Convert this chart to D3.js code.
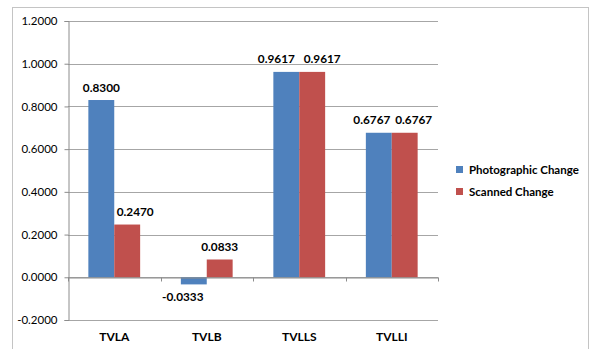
<!DOCTYPE html>
<html>
<head>
<meta charset="utf-8">
<script src="https://cdn.jsdelivr.net/npm/d3@7/dist/d3.min.js"></script>
<style>
  html, body { margin: 0; padding: 0; background: #fff; }
  svg text { font-family: Lato, "Open Sans", sans-serif; fill: #000; }
</style>
</head>
<body>
<svg id="chart" width="591" height="349"></svg>
<script>
// Chart data
const categories = ["TVLA", "TVLB", "TVLLS", "TVLLI"];
const seriesNames = ["Photographic Change", "Scanned Change"];
const photographic = [0.8300, -0.0333, 0.9617, 0.6767];
const scanned = [0.2470, 0.0833, 0.9617, 0.6767];
const yTicks = [-0.2, 0, 0.2, 0.4, 0.6, 0.8, 1.0, 1.2];
const colors = ["#4F81BD", "#C0504D"];

// Horizontal nudges for value labels so neighbouring labels do not collide
const labelShift = [[0, 8], [-11, 0], [-10, 10], [-7, 9]];

// Four-decimal format with a plain hyphen for negatives
const fmt = v => (v < 0 ? "-" : "") + Math.abs(v).toFixed(4);

const svg = d3.select("#chart");

// Outer frame
svg.append("rect")
  .attr("x", 12.5).attr("y", 7.5)
  .attr("width", 576).attr("height", 345)
  .attr("fill", "#fff").attr("stroke", "#c4c4c4").attr("stroke-width", 1);

const plot = { left: 68, right: 438, top: 21, bottom: 320 };

const y = d3.scaleLinear().domain([-0.2, 1.2]).range([plot.bottom, plot.top]);
const x0 = d3.scaleBand().domain(categories).range([plot.left, plot.right]).paddingInner(0.44).paddingOuter(0.22);
const x1 = d3.scaleBand().domain(seriesNames).range([0, x0.bandwidth()]);

// Horizontal gridlines
svg.append("g").selectAll("line").data(yTicks).join("line")
  .attr("x1", plot.left).attr("x2", plot.right)
  .attr("y1", d => Math.round(y(d)) + 0.5).attr("y2", d => Math.round(y(d)) + 0.5)
  .attr("stroke", "#a6a6a6").attr("stroke-width", 1);

// Y axis
const yAxis = d3.axisLeft(y).tickValues(yTicks).tickSize(4).tickPadding(7)
  .tickFormat(fmt);
const gy = svg.append("g").attr("transform", `translate(${plot.left + 0.5},0)`).call(yAxis);
gy.select(".domain").attr("stroke", "#8c8c8c");
gy.selectAll(".tick line").attr("stroke", "#8c8c8c");
gy.selectAll(".tick text").attr("font-size", 11.5).attr("font-family", "Lato, sans-serif");

// Bars
const data = categories.map((c, i) => ({ cat: c, i, values: [photographic[i], scanned[i]] }));
const groups = svg.append("g").selectAll("g").data(data).join("g")
  .attr("transform", d => `translate(${x0(d.cat)},0)`);

groups.selectAll("rect").data(d => d.values.map((v, j) => ({ v, j }))).join("rect")
  .attr("x", d => x1(seriesNames[d.j]))
  .attr("width", x1.bandwidth())
  .attr("y", d => y(Math.max(0, d.v)))
  .attr("height", d => Math.abs(y(d.v) - y(0)))
  .attr("fill", d => colors[d.j]);

// Value labels
groups.selectAll("text").data(d => d.values.map((v, j) => ({ v, j, i: d.i }))).join("text")
  .attr("x", d => x1(seriesNames[d.j]) + x1.bandwidth() / 2 + labelShift[d.i][d.j])
  .attr("y", d => d.v >= 0 ? y(d.v) - 8.5 : y(d.v) + 17)
  .attr("text-anchor", "middle")
  .attr("font-size", 11.8).attr("font-weight", "bold")
  .text(d => fmt(d.v));

// Category axis at zero
const xAxis = d3.axisBottom(x0).tickSize(0).tickFormat("");
const gx = svg.append("g").attr("transform", `translate(0,${Math.round(y(0)) + 0.5})`).call(xAxis);
gx.select(".domain").attr("stroke", "#8c8c8c");
// Boundary tick marks between categories
const bounds = d3.range(categories.length + 1).map(i => plot.left + i * (plot.right - plot.left) / categories.length);
gx.selectAll(".bound").data(bounds).join("line")
  .attr("x1", d => Math.round(d) + 0.5).attr("x2", d => Math.round(d) + 0.5)
  .attr("y1", 0).attr("y2", 4).attr("stroke", "#8c8c8c");

// Category labels at the bottom
svg.append("g").selectAll("text").data(categories).join("text")
  .attr("x", d => x0(d) + x0.bandwidth() / 2)
  .attr("y", 341)
  .attr("text-anchor", "middle")
  .attr("font-size", 12).attr("font-weight", "bold")
  .text(d => d);

// Legend
const legend = svg.append("g").selectAll("g").data(seriesNames).join("g")
  .attr("transform", (d, i) => `translate(456,${166 + i * 22})`);
legend.append("rect").attr("width", 7).attr("height", 7).attr("fill", (d, i) => colors[i]);
legend.append("text").attr("x", 13).attr("y", 7.5)
  .attr("font-size", 11.5).attr("font-weight", "bold")
  .text(d => d);
</script>
</body>
</html>
